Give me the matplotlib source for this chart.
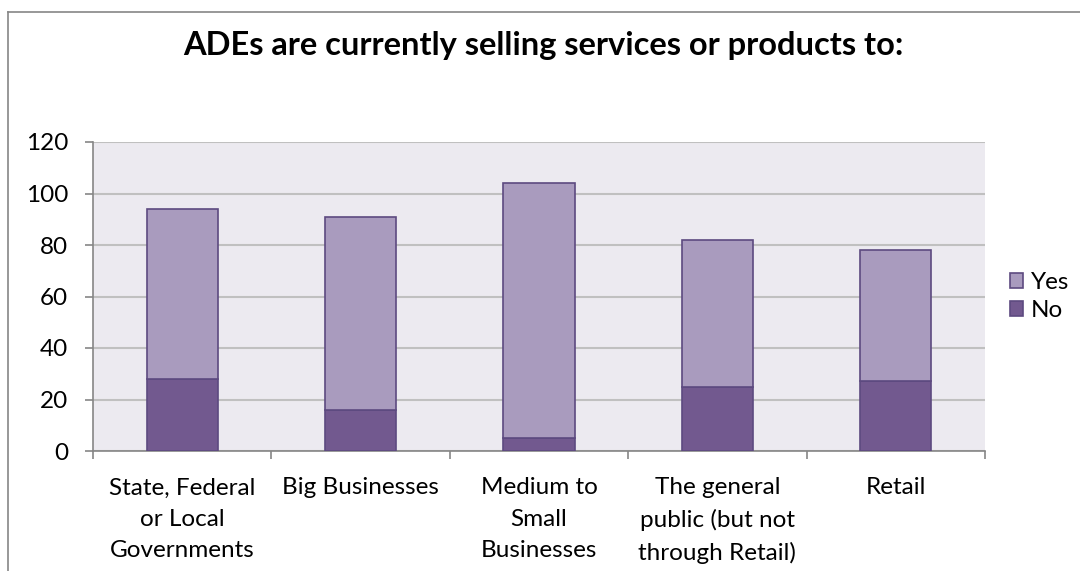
import matplotlib
matplotlib.use("Agg")
import matplotlib.pyplot as plt
import numpy as np
from matplotlib.lines import Line2D

categories = ["State, Federal\nor Local\nGovernments", "Big Businesses",
              "Medium to\nSmall\nBusinesses", "The general\npublic (but not\nthrough Retail)",
              "Retail"]
no_vals = [28, 16, 5, 25, 27]
yes_vals = [66, 75, 99, 57, 51]
yticks = [0, 20, 40, 60, 80, 100, 120]

plt.rcParams['font.family'] = ['Lato', 'DejaVu Sans']

yes_col = "#a99bbe"
no_col = "#72598f"
edge_col = "#5d4a80"
axis_col = "#868686"
fs = 17.5

fig = plt.figure(figsize=(10.8, 5.71), dpi=100)
ax = fig.add_axes([93/1080, 1 - 451/571, (985-93)/1080, (451-142)/571])
ax.set_facecolor("#eceaf0")

x = np.arange(len(categories))
ax.bar(x, no_vals, width=0.4, color=no_col, edgecolor=edge_col, linewidth=1.2,
       label="No", zorder=3)
ax.bar(x, yes_vals, width=0.4, bottom=no_vals, color=yes_col, edgecolor=edge_col,
       linewidth=1.2, label="Yes", zorder=3)

ax.set_xlim(-0.5, len(categories) - 0.5)
ax.set_ylim(0, 120)
ax.set_yticks(yticks)
ax.yaxis.grid(True, color="#c0c0c0", linewidth=1.5, zorder=0)
ax.set_axisbelow(True)

for s in ["top", "right"]:
    ax.spines[s].set_visible(False)
for s in ["left", "bottom"]:
    ax.spines[s].set_color(axis_col)
    ax.spines[s].set_linewidth(1.2)

ax.set_xticks(x)
ax.set_xticklabels(categories, fontsize=fs, linespacing=1.6)
ax.set_xticks(np.arange(-0.5, len(categories)), minor=True)
ax.tick_params(axis="x", which="major", length=0, pad=19)
ax.tick_params(axis="x", which="minor", length=6, width=1.2, color=axis_col, direction="out")
ax.tick_params(axis="y", length=6, width=1.2, color=axis_col, pad=12, labelsize=fs)

handles, labels = ax.get_legend_handles_labels()
fig.legend(handles[::-1], labels[::-1], loc="center left",
           bbox_to_anchor=(1010/1080, 1 - 296.5/571), bbox_transform=fig.transFigure,
           frameon=False, fontsize=fs, handlelength=0.55, handleheight=0.55,
           handletextpad=0.3, labelspacing=0.3, borderaxespad=0, borderpad=0)

fig.text(0.503, 1 - 45/571, "ADEs are currently selling services or products to:",
         ha="center", va="center", fontsize=23.5, fontweight="bold")

# chart frame
fig.add_artist(Line2D([8/1080, 8/1080], [0, 1 - 12/571], color=axis_col, linewidth=1.2))
fig.add_artist(Line2D([8/1080, 1], [1 - 12/571, 1 - 12/571], color=axis_col, linewidth=1.2))

fig.savefig("out.png", dpi=100)
